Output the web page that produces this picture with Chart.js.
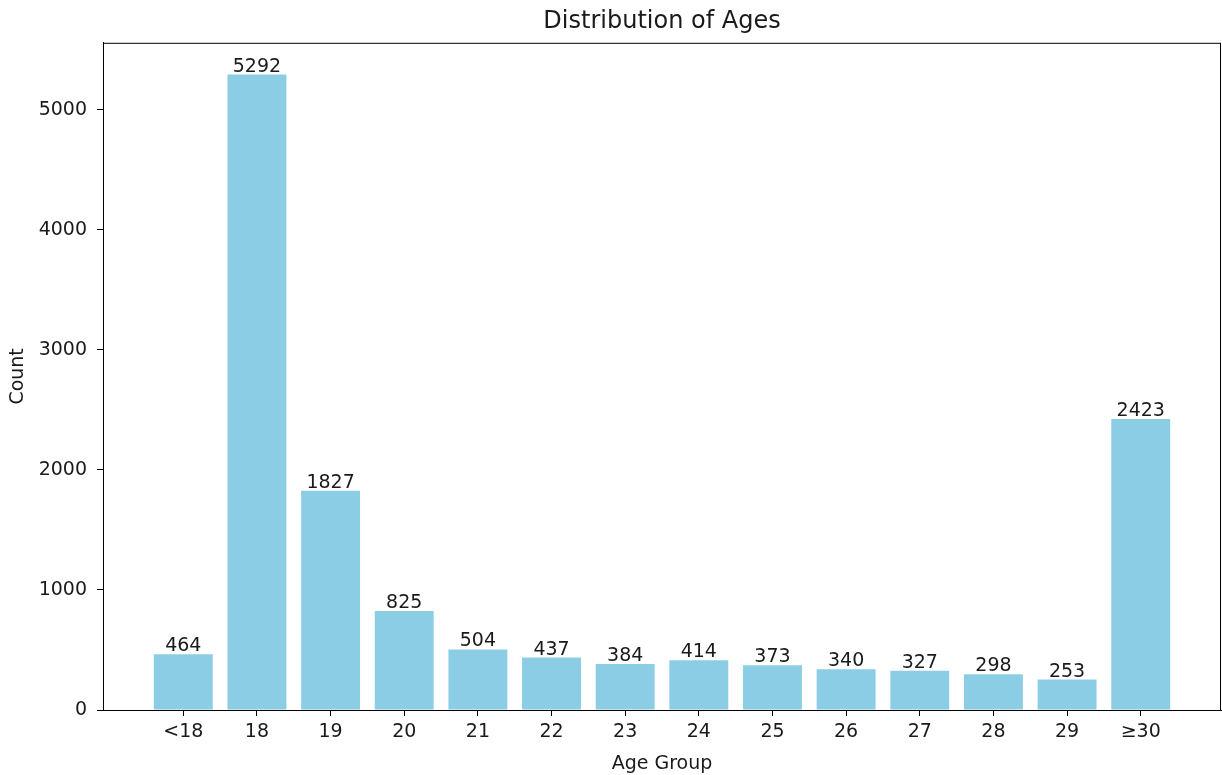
<!DOCTYPE html>
<html>
<head>
<meta charset="utf-8">
<title>Distribution of Ages</title>
<script src="https://cdn.jsdelivr.net/npm/chart.js@4/dist/chart.umd.min.js"></script>
<style>
  html, body { margin: 0; padding: 0; background: #fff; }
  #wrap { width: 1222px; height: 775px; }
</style>
</head>
<body>
<div id="wrap"><canvas id="ageChart" width="1222" height="775"></canvas></div>
<script>
// chart data
const ageGroups = ['<18', '18', '19', '20', '21', '22', '23', '24', '25', '26', '27', '28', '29', '≥30'];
const counts = [464, 5292, 1827, 825, 504, 437, 384, 414, 373, 340, 327, 298, 253, 2423];
const yTicks = [0, 1000, 2000, 3000, 4000, 5000];

const FONT = '"DejaVu Sans", sans-serif';
const TEXT = '#1a1a1a';
const BAR_COLOR = '#8ccde6';
const TICK_SIZE = 19;

// matplotlib-like padding around the bars (5% of the span)
const xSpan = (ageGroups.length - 1) + 0.8;
const xMin = -0.4 - xSpan * 0.05;
const xMax = ageGroups.length - 1 + 0.4 + xSpan * 0.05;
const yMax = Math.max(...counts) * 1.05;

// box around the plot area
const frame = {
    id: 'frame',
    afterDraw(chart) {
        const { ctx, chartArea: a } = chart;
        ctx.save();
        ctx.strokeStyle = '#000';
        ctx.lineWidth = 1;
        ctx.strokeRect(a.left + 0.5, a.top + 0.5, a.right - a.left - 1, a.bottom - a.top);
        ctx.restore();
    }
};

// numbers above the bars
const barValues = {
    id: 'barValues',
    afterDatasetsDraw(chart) {
        const { ctx } = chart;
        const meta = chart.getDatasetMeta(0);
        ctx.save();
        ctx.font = TICK_SIZE + 'px ' + FONT;
        ctx.fillStyle = TEXT;
        ctx.textAlign = 'center';
        ctx.textBaseline = 'alphabetic';
        meta.data.forEach((bar, i) => {
            ctx.fillText(String(counts[i]), bar.x, bar.y - 3);
        });
        ctx.restore();
    }
};

new Chart(document.getElementById('ageChart'), {
    type: 'bar',
    data: {
        datasets: [{
            data: counts.map((v, i) => ({ x: i, y: v })),
            backgroundColor: BAR_COLOR,
            borderWidth: 0,
            barPercentage: 0.8,
            categoryPercentage: 1
        }]
    },
    options: {
        responsive: false,
        animation: false,
        devicePixelRatio: 1,
        layout: { padding: { top: 0, left: 0, right: 1, bottom: 0 } },
        plugins: {
            legend: { display: false },
            tooltip: { enabled: false },
            title: {
                display: true,
                fullSize: false,
                text: 'Distribution of Ages',
                color: TEXT,
                font: { family: FONT, size: 24, weight: 'normal', lineHeight: 1.2 },
                padding: { top: 7, bottom: 7 }
            }
        },
        scales: {
            x: {
                type: 'linear',
                min: xMin,
                max: xMax,
                offset: false,
                afterBuildTicks: (scale) => {
                    scale.ticks = ageGroups.map((_, i) => ({ value: i }));
                },
                afterFit: (scale) => { scale.height = 65; },
                ticks: {
                    color: TEXT,
                    font: { family: FONT, size: TICK_SIZE },
                    padding: 5,
                    maxRotation: 0,
                    autoSkip: false,
                    callback: (v) => ageGroups[v]
                },
                grid: { display: true, offset: false, drawOnChartArea: false, drawTicks: true, tickLength: 6, color: '#000' },
                border: { display: true, color: '#000', width: 1 },
                title: {
                    display: true,
                    text: 'Age Group',
                    color: TEXT,
                    font: { family: FONT, size: TICK_SIZE },
                    padding: { top: 0, bottom: 0 }
                }
            },
            y: {
                min: 0,
                max: yMax,
                afterBuildTicks: (scale) => {
                    scale.ticks = yTicks.map(v => ({ value: v }));
                },
                afterFit: (scale) => { scale.width = 103; },
                ticks: {
                    color: TEXT,
                    font: { family: FONT, size: TICK_SIZE },
                    padding: 10,
                    callback: (v) => String(v)
                },
                grid: { display: true, offset: false, drawOnChartArea: false, drawTicks: true, tickLength: 6, color: '#000' },
                border: { display: true, color: '#000', width: 1 },
                title: {
                    display: true,
                    text: 'Count',
                    color: TEXT,
                    font: { family: FONT, size: TICK_SIZE },
                    padding: { top: 7, bottom: 0 }
                }
            }
        }
    },
    plugins: [frame, barValues]
});
</script>
</body>
</html>
